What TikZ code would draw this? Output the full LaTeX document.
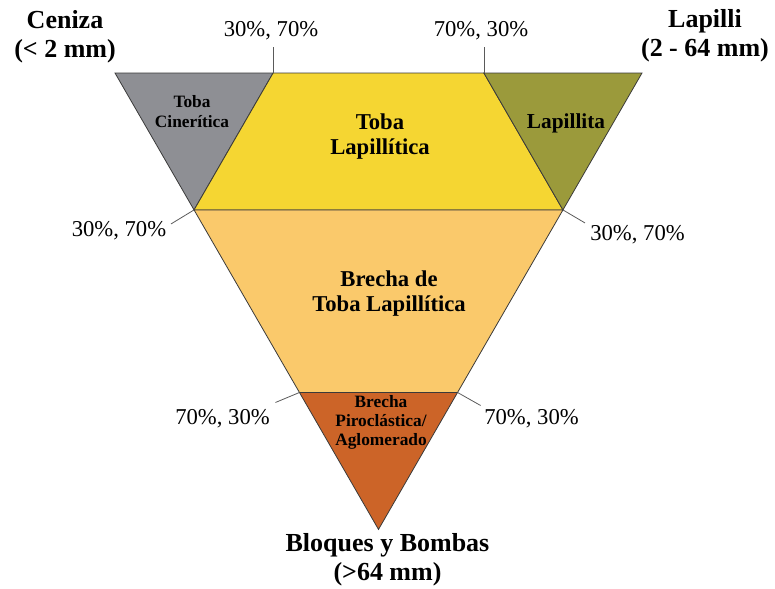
\documentclass[tikz,border=0pt]{standalone}
\usepackage{fontspec}
\setmainfont{Liberation Serif}
\usetikzlibrary{calc}
\definecolor{cenizagray}{HTML}{8E8F94}
\definecolor{tobayellow}{HTML}{F5D632}
\definecolor{lapilliolive}{HTML}{9B9A3B}
\definecolor{brechaorange}{HTML}{FAC96B}
\definecolor{bloquebrown}{HTML}{CC6428}
\definecolor{edgegray}{HTML}{3A3A3A}
\definecolor{tickgray}{HTML}{5A5A5A}

\begin{document}
\begin{tikzpicture}[x=0.75pt,y=-0.75pt,
    zone/.style={draw=edgegray,line width=0.6pt,line join=miter},
    tick/.style={draw=tickgray,line width=0.6pt},
    pct/.style={font=\fontsize{17}{20}\selectfont,inner sep=0pt},
    corner/.style={font=\bfseries\fontsize{19.5}{21.75}\selectfont,align=center,
      inner sep=0pt},
    bigname/.style={font=\bfseries\fontsize{17}{18.75}\selectfont,align=center,
      inner sep=0pt},
    smallname/.style={font=\bfseries\fontsize{13}{15}\selectfont,align=center,
      inner sep=0pt}
  ]
    \useasboundingbox (0,0) rectangle (775,589);
    \coordinate (A) at (115,73);
    \coordinate (B) at (642,73);
    \coordinate (C) at (378.5,529.4);
    \coordinate (a1) at ($(A)!0.3!(B)$);
    \coordinate (a2) at ($(A)!0.7!(B)$);
    \coordinate (l1) at ($(A)!0.3!(C)$);
    \coordinate (l2) at ($(A)!0.7!(C)$);
    \coordinate (r1) at ($(B)!0.3!(C)$);
    \coordinate (r2) at ($(B)!0.7!(C)$);

    \path[zone,fill=cenizagray] (A) -- (a1) -- (l1) -- cycle;
    \path[zone,fill=tobayellow] (a1) -- (a2) -- (r1) -- (l1) -- cycle;
    \path[zone,fill=lapilliolive] (a2) -- (B) -- (r1) -- cycle;
    \path[zone,fill=brechaorange] (l1) -- (r1) -- (r2) -- (l2) -- cycle;
    \path[zone,fill=bloquebrown] (l2) -- (r2) -- (C) -- cycle;

    \node[corner] (ceniza) at (65,36.5) {Ceniza\\(< 2 mm)};
    \node[corner] (lapilli) at (705,36) {Lapilli\\(2 - 64 mm)};
    \node[corner] (bloques) at (387.5,560) {Bloques y Bombas\\(>64 mm)};

    \node[smallname] (cinerit) at (192,112) {Toba\\Cinerítica};
    \node[bigname] (tobalap) at (380,137) {Toba\\Lapillítica};
    \node[font=\bfseries\fontsize{16}{18}\selectfont,inner sep=0pt] (lapillita)
      at (566,123) {Lapillita};
    \node[bigname] (brechatoba) at (389,294) {Brecha de\\Toba Lapillítica};
    \node[smallname,font=\bfseries\fontsize{13}{14.25}\selectfont] (brechapiro)
      at (381,422) {Brecha\\Piroclástica/\\Aglomerado};

    \node[pct] (pTL) at (271,31) {30\%, 70\%};
    \node[pct] (pTR) at (481,31) {70\%, 30\%};
    \node[pct] (pML) at (119,231) {30\%, 70\%};
    \node[pct] (pMR) at (637.5,235) {30\%, 70\%};
    \node[pct] (pBL) at (222.5,419) {70\%, 30\%};
    \node[pct] (pBR) at (531.5,419) {70\%, 30\%};

    \coordinate (tTL) at ($(a1)+(0,-26)$);
    \coordinate (tTR) at ($(a2)+(0,-26)$);
    \coordinate (tML) at ($(l1)+(-23,14)$);
    \coordinate (tMR) at ($(r1)+(22,13)$);
    \coordinate (tBL) at ($(l2)+(-24,10)$);
    \coordinate (tBR) at ($(r2)+(23,13)$);
    \draw[tick] (a1) -- (tTL);
    \draw[tick] (a2) -- (tTR);
    \draw[tick] (l1) -- (tML);
    \draw[tick] (r1) -- (tMR);
    \draw[tick] (l2) -- (tBL);
    \draw[tick] (r2) -- (tBR);
  \end{tikzpicture}
\end{document}
